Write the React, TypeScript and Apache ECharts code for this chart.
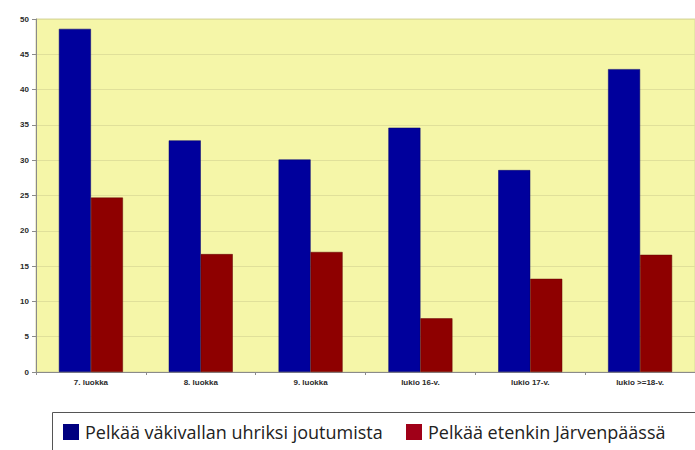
import React, { useEffect, useRef } from "react";
import * as echarts from "echarts";

const categories = ["7. luokka", "8. luokka", "9. luokka", "lukio 16-v.", "lukio 17-v.", "lukio >=18-v."];
const seriesNames = ["Pelkää väkivallan uhriksi joutumista", "Pelkää etenkin Järvenpäässä"];
const violenceFear = [48.6, 32.8, 30.1, 34.6, 28.6, 42.9];
const jarvenpaaFear = [24.7, 16.7, 17.0, 7.6, 13.2, 16.6];
const yTicks = { min: 0, max: 50, interval: 5 };

export default function App() {
  const ref = useRef<HTMLDivElement>(null);
  useEffect(() => {
    if (!ref.current) return;
    const chart = echarts.init(ref.current, undefined, { renderer: "svg" });
    const blue = "#00009c";
    const red = "#8e0000";
    chart.setOption({
      animation: false,
      backgroundColor: "#ffffff",
      grid: { left: 36, top: 19, width: 666, height: 353, backgroundColor: "#f5f6a8", show: true, borderColor: "#d6d6a0", borderWidth: 1 },
      legend: { show: false },
      xAxis: {
        type: "category",
        data: categories,
        axisLine: { lineStyle: { color: "#8a8a8a", width: 1 } },
        axisTick: { show: true, length: 3, lineStyle: { color: "#8a8a8a" } },
        axisLabel: { color: "#2a2a2a", fontSize: 8, fontWeight: "bold", fontFamily: "Liberation Sans, Arial", margin: 6 },
      },
      yAxis: {
        type: "value",
        min: yTicks.min,
        max: yTicks.max,
        interval: yTicks.interval,
        axisLine: { show: true, lineStyle: { color: "#8a8a8a", width: 1 } },
        axisTick: { show: true, length: 4, lineStyle: { color: "#8a8a8a" } },
        axisLabel: { color: "#2a2a2a", fontSize: 8, fontWeight: "bold", fontFamily: "Liberation Sans, Arial", margin: 7 },
        splitLine: { show: true, lineStyle: { color: "#e0e09a", width: 1 } },
      },
      series: [
        {
          name: seriesNames[0],
          type: "bar",
          data: violenceFear,
          barWidth: 32,
          barGap: "0%",
          itemStyle: { color: blue, borderColor: "#00006a", borderWidth: 0.5 },
        },
        {
          name: seriesNames[1],
          type: "bar",
          data: jarvenpaaFear,
          barWidth: 32,
          barGap: "0%",
          itemStyle: { color: red, borderColor: "#600000", borderWidth: 0.5 },
        },
      ],
      graphic: [
        { type: "rect", shape: { x: 52.5, y: 412.5, width: 700, height: 60 }, style: { fill: "#ffffff", stroke: "#555", lineWidth: 1 } },
        { type: "rect", shape: { x: 63, y: 424, width: 16, height: 16 }, style: { fill: "#000080" } },
        { type: "text", x: 85, y: 432, style: { text: seriesNames[0], fill: "#222", fontSize: 18, fontFamily: "Open Sans, Noto Sans", verticalAlign: "middle" } },
        { type: "rect", shape: { x: 406, y: 424, width: 16, height: 16 }, style: { fill: "#a00018" } },
        { type: "text", x: 428, y: 432, style: { text: seriesNames[1], fill: "#222", fontSize: 18, fontFamily: "Open Sans, Noto Sans", verticalAlign: "middle" } },
      ],
    });
    return () => chart.dispose();
  }, []);
  return <div ref={ref} style={{ position: "fixed", left: 0, top: 0, width: 695, height: 450 }} />;
}
